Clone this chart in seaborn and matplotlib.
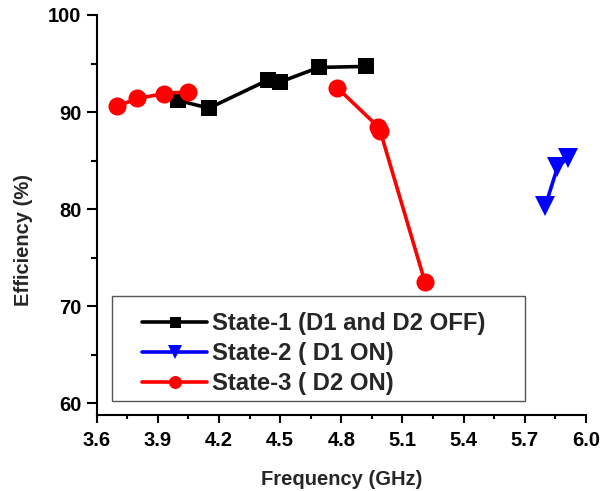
import matplotlib
matplotlib.use("Agg")
import matplotlib.pyplot as plt
from matplotlib.patches import Rectangle
from matplotlib.ticker import MultipleLocator
import pandas as pd
import seaborn as sns

# Efficiency versus frequency for the three switching states
s1_freq = [4.00, 4.15, 4.44, 4.50, 4.69, 4.92]
s1_eff = [91.2, 90.4, 93.3, 93.1, 94.6, 94.7]

s2_freq = [5.80, 5.86, 5.91]
s2_eff = [80.3, 84.3, 85.3]

# State-3 was measured in two separate bands, so it is drawn as two runs
s3_freq = [3.70, 3.80, 3.93, 4.05, 4.78, 4.98, 4.99, 5.21]
s3_eff = [90.6, 91.4, 91.9, 92.1, 92.5, 88.5, 88.1, 72.5]
s3_band = [0, 0, 0, 0, 1, 1, 1, 1]

labels = ["State-1 (D1 and D2 OFF)", "State-2 ( D1 ON)", "State-3 ( D2 ON)"]
colors = ["#000000", "#0000ff", "#ff0000"]
markers = ["s", "v", "o"]
msizes = [11, 14, 13]

x_ticks = [3.6, 3.9, 4.2, 4.5, 4.8, 5.1, 5.4, 5.7, 6.0]
y_ticks = [60, 70, 80, 90, 100]

sns.set_theme(style="ticks")
plt.rcParams["font.family"] = ["Liberation Sans", "DejaVu Sans"]
plt.rcParams["font.weight"] = "bold"

fig = plt.figure(figsize=(6.02, 4.91), dpi=100)
ax = fig.add_axes([0.1606, 0.1548, 0.8128, 0.8147])

series = [
    (s1_freq, s1_eff, [0] * len(s1_freq)),
    (s2_freq, s2_eff, [0] * len(s2_freq)),
    (s3_freq, s3_eff, s3_band),
]
for (fx, fy, band), lab, col, mk, ms in zip(series, labels, colors, markers, msizes):
    df = pd.DataFrame({"f": fx, "e": fy, "band": band})
    sns.lineplot(data=df, x="f", y="e", units="band", ax=ax, sort=False,
                 estimator=None, color=col, marker=mk, markersize=ms,
                 markeredgecolor=col, markeredgewidth=0, linewidth=2.6,
                 label=lab)

ax.set_xlim(3.6, 6.0)
ax.set_ylim(58.8, 100)
ax.set_xticks(x_ticks)
ax.set_xticklabels([f"{t:.1f}" for t in x_ticks])
ax.set_yticks(y_ticks)
ax.xaxis.set_minor_locator(MultipleLocator(0.15))
ax.set_yticks([65, 75, 85, 95], minor=True)

for side in ("top", "right"):
    ax.spines[side].set_visible(False)
for side in ("left", "bottom"):
    ax.spines[side].set_linewidth(1.5)
    ax.spines[side].set_color("black")

ax.tick_params(axis="y", which="major", direction="out", length=7.5, width=1.5,
               labelsize=14.5, colors="black", pad=3.5)
ax.tick_params(axis="y", which="minor", direction="out", length=4.5, width=1.5,
               colors="black")
ax.tick_params(axis="x", which="major", direction="out", length=5.5, width=1.5,
               labelsize=14.5, colors="black", pad=6)
ax.tick_params(axis="x", which="minor", direction="out", length=3, width=1.5,
               colors="black")
for t in ax.get_xticklabels() + ax.get_yticklabels():
    t.set_fontweight("bold")

ax.set_xlabel("Frequency (GHz)", fontsize=14.5, fontweight="bold")
ax.set_ylabel("Efficiency (%)", fontsize=14.5, fontweight="bold")
ax.xaxis.set_label_coords(0.5, -0.1375)
ax.yaxis.set_label_coords(-0.13, 0.4375)

# One legend entry per state (the two State-3 runs share a label)
handles, names = ax.get_legend_handles_labels()
entries = dict(zip(names, handles))
leg = ax.legend(list(entries.values()), list(entries.keys()),
                loc="upper left", bbox_to_anchor=(0.092, 0.2575),
                prop={"weight": "bold", "size": 17.2}, frameon=False,
                borderpad=0, labelspacing=0.3, handlelength=2.75,
                handletextpad=0.2, markerscale=0.72, borderaxespad=0)
ax.add_patch(Rectangle((0.031, 0.036), 0.844, 0.262, transform=ax.transAxes,
                       facecolor="white", edgecolor="#555555", linewidth=1.0,
                       zorder=4))
leg.set_zorder(5)

fig.savefig("out.png", dpi=100, facecolor="white")
